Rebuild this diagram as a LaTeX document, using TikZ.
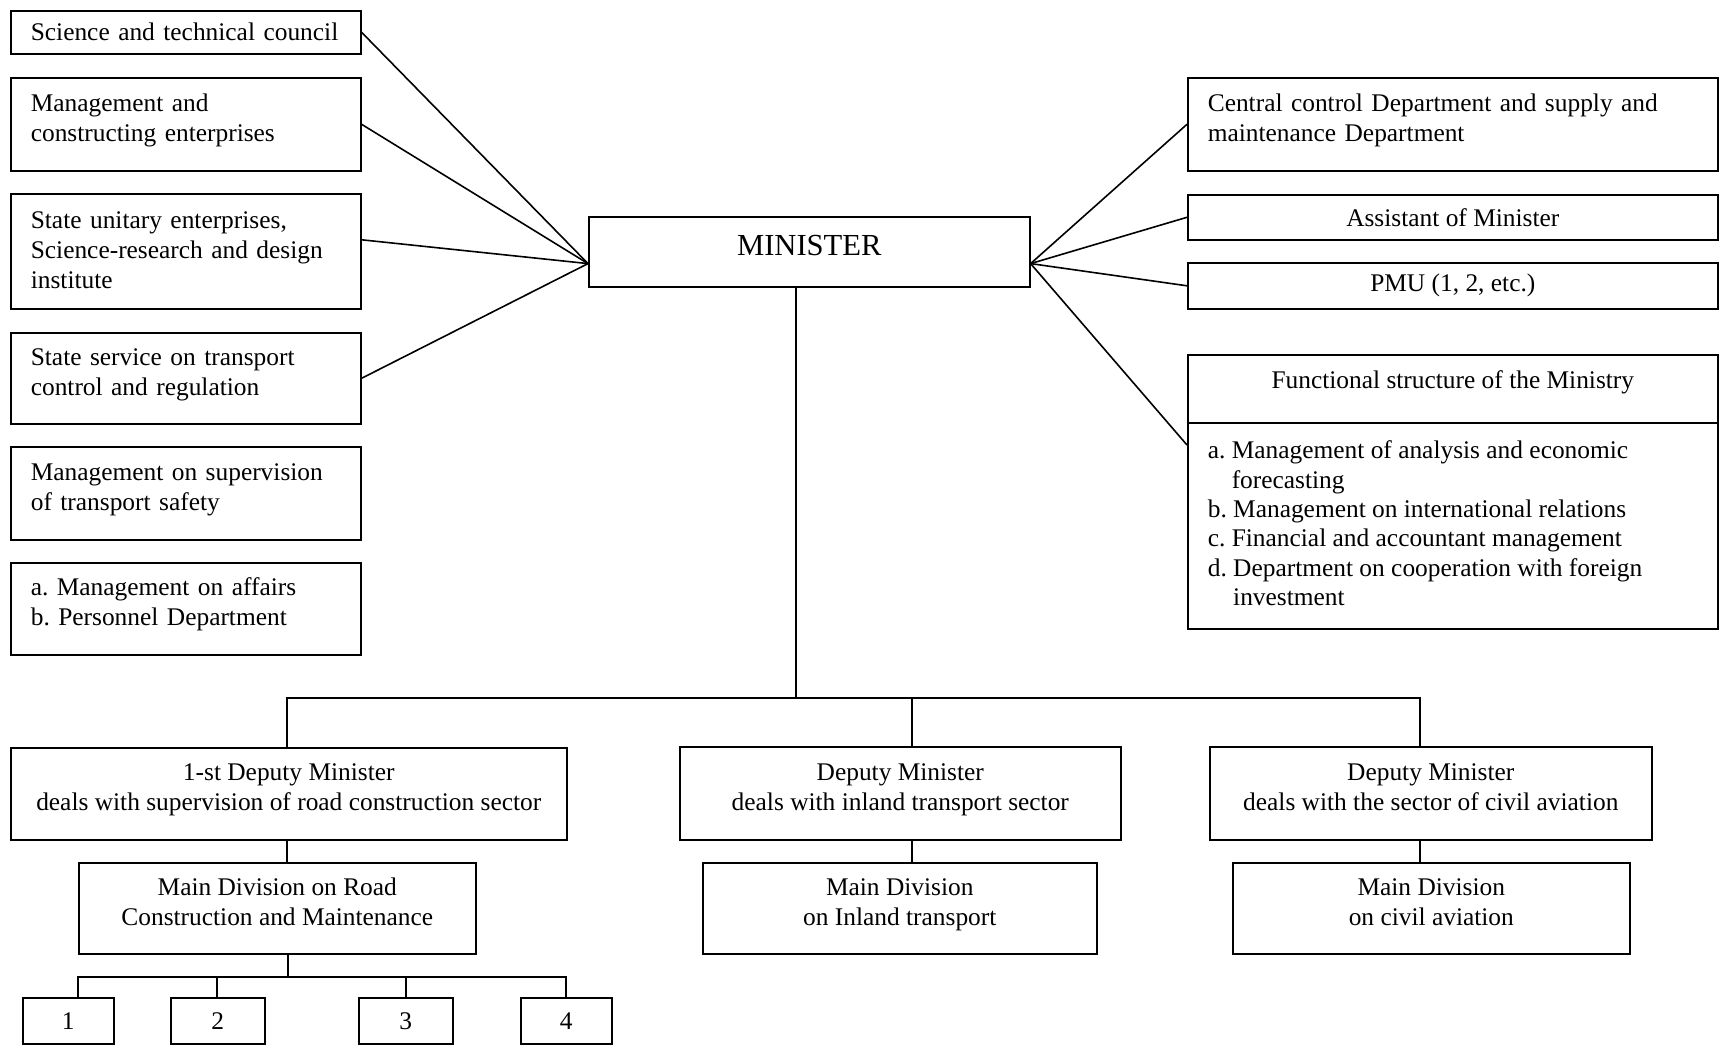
\documentclass[tikz,border=0pt]{standalone}
\usepackage{fontspec}
\setmainfont{Liberation Serif}
\newcommand\zzfirst{\rule{0pt}{9pt}}
\newcommand\zzlast{\rule[-7.2pt]{0pt}{7.2pt}}
\begin{document}
\frenchspacing
\begin{tikzpicture}[x=0.5pt,y=-0.5pt, line width=0.8pt,
  every node/.style={font=\fontsize{12.7}{15}\selectfont},
  box/.style={draw, anchor=north west, inner sep=0pt},
  lbox/.style={box, minimum width=175pt, text width=155pt, align=left},
  rbox/.style={box, minimum width=265pt},
  cbox/.style={box, align=center}]
\useasboundingbox (0,0) rectangle (1720,1048);
% left column
\node[lbox, minimum height=21.5pt] (B1) at (10,10) {Science and technical council};
\node[lbox, minimum height=46.5pt] (B2) at (10,77) {\zzfirst Management and\\constructing enterprises\zzlast};
\node[lbox, minimum height=57.5pt] (B3) at (10,193) {\zzfirst State unitary enterprises,\\Science-research and design\\institute\rule[-2pt]{0pt}{2pt}};
\node[lbox, minimum height=45.5pt] (B4) at (10,332) {\zzfirst State service on transport\\control and regulation\zzlast};
\node[lbox, minimum height=46.5pt] (B5) at (10,446) {\zzfirst Management on supervision\\of transport safety\zzlast};
\node[lbox, minimum height=46pt] (B6) at (10,562) {\zzfirst a. Management on affairs\\b. Personnel Department\zzlast};
% minister
\node[box, minimum width=220.5pt, minimum height=35pt, font=\fontsize{15.3}{18}\selectfont] (MIN) at (588,216) {\rule[-7pt]{0pt}{18pt}MINISTER};
% right column
\node[rbox, text width=245pt, align=left, minimum height=46.5pt] (R1) at (1187,77) {\zzfirst Central control Department and supply and\\maintenance Department\zzlast};
\node[rbox, minimum height=22.5pt] (R2) at (1187,194) {Assistant of Minister};
\node[rbox, minimum height=23pt] (R3) at (1187,262) {PMU (1, 2, etc.)};
\node[rbox, minimum height=137pt] (R4) at (1187,354) {};
\draw ([yshift=-34.5pt]R4.north west) -- ([yshift=-34.5pt]R4.north east);
\node[inner sep=0pt] (R4t) at ([yshift=-14pt]R4.north) {Functional structure of the Ministry};
\node[anchor=north west, inner sep=0pt, align=left, font=\fontsize{12.7}{14.7}\selectfont] (R4l) at ([xshift=10pt,yshift=-43pt]R4.north west)
  {a. Management of analysis and economic\\\phantom{a. }forecasting\\b. Management on international relations\\c. Financial and accountant management\\d. Department on cooperation with foreign\\\phantom{d. }investment};
% deputies
\node[cbox, minimum width=278pt, minimum height=46pt] (D1) at (10,747) {\zzfirst 1-st Deputy Minister\\deals with supervision of road construction sector\zzlast};
\node[cbox, minimum width=220.5pt, minimum height=46.5pt] (D2) at (679,746) {\zzfirst Deputy Minister\\deals with inland transport sector\zzlast};
\node[cbox, minimum width=221pt, minimum height=46.5pt] (D3) at (1209,746) {\zzfirst Deputy Minister\\deals with the sector of civil aviation\zzlast};
% main divisions
\node[cbox, minimum width=198.5pt, minimum height=45.5pt] (M1) at (78,862) {\zzfirst Main Division on Road\\Construction and Maintenance\zzlast};
\node[cbox, minimum width=197pt, minimum height=45.5pt] (M2) at (702,862) {\zzfirst Main Division\\on Inland transport\zzlast};
\node[cbox, minimum width=198.5pt, minimum height=45.5pt] (M3) at (1232,862) {\zzfirst Main Division\\on civil aviation\zzlast};
% small units
\node[cbox, minimum width=45.5pt, minimum height=23pt] (S1) at (22,997) {1};
\node[cbox, minimum width=47pt, minimum height=23pt] (S2) at (170,997) {2};
\node[cbox, minimum width=47pt, minimum height=23pt] (S3) at (358,997) {3};
\node[cbox, minimum width=45.5pt, minimum height=23pt] (S4) at (520,997) {4};
% connector coordinates
\coordinate (mL) at ([yshift=12pt]MIN.south west);
\coordinate (mR) at ([yshift=12pt]MIN.south east);
\coordinate (bus) at (796,698);
\coordinate (busL) at (287,698);
\coordinate (busM) at (912,698);
\coordinate (busR) at (1420,698);
\coordinate (sb) at (288,977);
\coordinate (s1) at (78,977);
\coordinate (s2) at (217,977);
\coordinate (s3) at (406,977);
\coordinate (s4) at (566,977);
% left connectors
\draw (mL) -- (B1.east);
\draw (mL) -- (B2.east);
\draw (mL) -- ([yshift=5.75pt]B3.east);
\draw (mL) -- (B4.east);
% right connectors
\draw (mR) -- (R1.west);
\draw (mR) -- (R2.west);
\draw (mR) -- (R3.west);
\draw (mR) -- ([yshift=-45.5pt]R4.north west);
% tree
\draw (MIN.south -| bus) -- (bus);
\draw (busL |- D1.north) -- (busL) -- (busR) -- (busR |- D3.north);
\draw (busM) -- (busM |- D2.north);
\draw (D1.south -| busL) -- (M1.north -| busL);
\draw (D2.south -| busM) -- (M2.north -| busM);
\draw (D3.south -| busR) -- (M3.north -| busR);
\draw (M1.south -| sb) -- (sb);
\draw (s1 |- S1.north) -- (s1) -- (s4) -- (s4 |- S4.north);
\draw (s2) -- (s2 |- S2.north);
\draw (s3) -- (s3 |- S3.north);
\end{tikzpicture}
\end{document}
